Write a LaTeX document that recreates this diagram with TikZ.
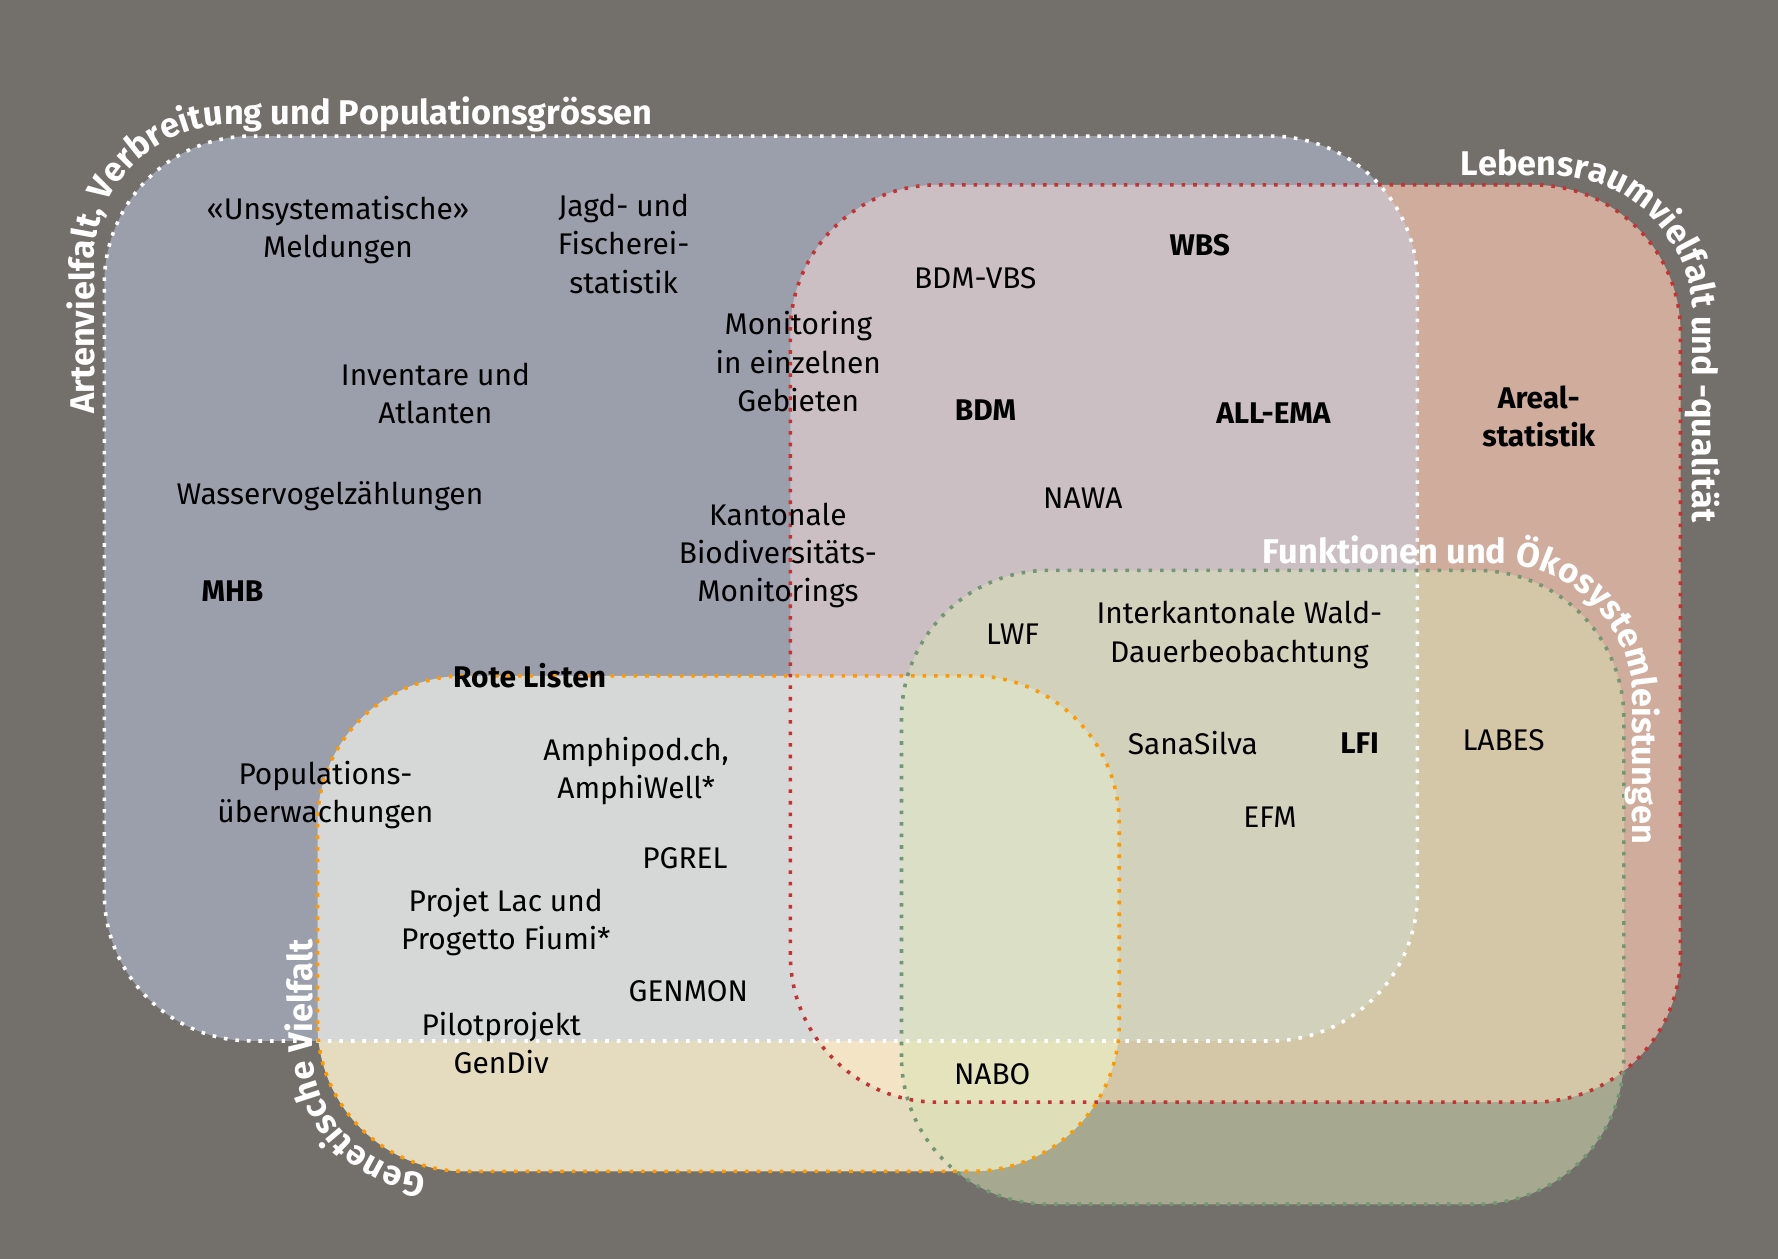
\documentclass[tikz,border=0pt]{standalone}
\usepackage{fontspec}
\setmainfont{Fira Sans}
\usetikzlibrary{decorations.text}
\definecolor{bgc}{HTML}{736F6B}
\definecolor{artc}{RGB}{198,213,243}
\definecolor{lebc}{HTML}{D0AC9C}
\definecolor{genc}{RGB}{250,238,206}
\definecolor{func}{RGB}{217,227,179}
\tikzset{
  lbl/.style={align=center, font=\fontsize{7.5}{9.6}\selectfont, text=black},
  blbl/.style={lbl, font=\fontsize{7.5}{9.6}\selectfont\bfseries},
  rim/.style={dotted, line width=0.9pt},
  arc text/.style={postaction={decorate}, decoration={text along path, text color=white,
    text={|\fontsize{8.6}{10}\selectfont\bfseries|#1}}}
}
\begin{document}
\begin{tikzpicture}[rounded corners=1.3cm]
        \fill[bgc, sharp corners] (0,0) rectangle (15.68,11.10);
        \useasboundingbox (0,0) rectangle (15.68,11.10);

        \fill[lebc] (6.97,1.38) rectangle (14.82,9.47); %Lebensraum
        \fill[genc, fill opacity=0.85] (2.80,0.77) rectangle (9.87,5.14); %Genetik
        \fill[artc, fill opacity=0.47] (0.92,1.92) rectangle (12.50,9.90); %Arten
        \fill[func, fill opacity=0.5] (7.95,0.48) rectangle (14.32,6.07); %Funktionen

        \draw[rim, white] (0.92,1.92) rectangle (12.50,9.90);
        \draw[rim, red!70!black!80] (6.97,1.38) rectangle (14.82,9.47);
        \draw[rim, orange!80!yellow] (2.80,0.77) rectangle (9.87,5.14);
        \draw[rim, green!25!black!55] (7.95,0.48) rectangle (14.32,6.07);

        % curved titles
        \path[sharp corners, arc text={Artenvielfalt, Verbreitung und Populationsgrössen}]
            (0.83,7.45) -- (0.83,8.8) arc[start angle=180, end angle=90, radius=1.2] -- (6.2,10.0);
        \path[sharp corners, arc text={Lebensraumvielfalt und -qualität}]
            (12.88,9.55) -- (13.68,9.55) arc[start angle=90, end angle=0, radius=1.25] -- (14.93,6.0);
        \path[sharp corners, arc text={Funktionen und Ökosystemleistungen}]
            (11.13,6.13) -- (13.20,6.13) arc[start angle=90, end angle=0, radius=1.2] -- (14.40,3.2);
        \path[sharp corners, arc text={Genetische Vielfalt}]
            (3.76,0.75) arc[start angle=-95, end angle=-180, radius=1.1] -- (2.76,3.2);

        % Arten
        \node[lbl] (unsys) at (2.98,9.07) {«Unsystematische»\\Meldungen};
        \node[lbl] (jagd) at (5.50,8.95) {Jagd- und\\Fischerei-\\statistik};
        \node[lbl] (moneinz) at (7.04,7.91) {Monitoring\\in einzelnen\\Gebieten};
        \node[lbl] (invent) at (3.84,7.63) {Inventare und\\Atlanten};
        \node[lbl] (wasser) at (2.91,6.72) {Wasservogelzählungen};
        \node[blbl] (mhb) at (2.05,5.89) {MHB};
        \node[lbl] (kanton) at (6.86,6.20) {Kantonale\\Biodiversitäts-\\Monitorings};
        \node[lbl] (popu) at (2.87,4.09) {Populations-\\überwachungen};
        % Genetik
        \node[blbl] (rote) at (4.67,5.14) {Rote Listen};
        \node[lbl] (amphi) at (5.61,4.30) {Amphipod.ch,\\AmphiWell*};
        \node[lbl] (pgrel) at (6.04,3.53) {PGREL};
        \node[lbl] (projet) at (4.46,2.97) {Projet Lac und\\Progetto Fiumi*};
        \node[lbl] (genmon) at (6.07,2.36) {GENMON};
        \node[lbl] (gendiv) at (4.42,1.90) {Pilotprojekt\\GenDiv};
        % Lebensraum
        \node[lbl] (bdmvbs) at (8.60,8.65) {BDM-VBS};
        \node[blbl] (wbs) at (10.58,8.94) {WBS};
        \node[blbl] (bdm) at (8.69,7.48) {BDM};
        \node[blbl] (allema) at (11.23,7.46) {ALL-EMA};
        \node[blbl] (areal) at (13.57,7.43) {Areal-\\statistik};
        \node[lbl] (nawa) at (9.55,6.71) {NAWA};
        % Funktionen
        \node[lbl] (lwf) at (8.93,5.51) {LWF};
        \node[lbl] (ikwald) at (10.93,5.50) {Interkantonale Wald-\\Dauerbeobachtung};
        \node[lbl] (sana) at (10.52,4.55) {SanaSilva};
        \node[blbl] (lfi) at (11.99,4.55) {LFI};
        \node[lbl] (labes) at (13.26,4.57) {LABES};
        \node[lbl] (efm) at (11.20,3.89) {EFM};
        \node[lbl] (nabo) at (8.75,1.63) {NABO};
\end{tikzpicture}
\end{document}
